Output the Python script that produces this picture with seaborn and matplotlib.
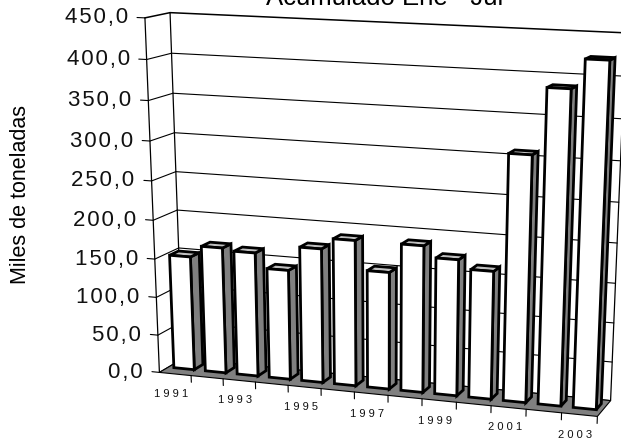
import numpy as np
import pandas as pd
import matplotlib
matplotlib.use("Agg")
import matplotlib.pyplot as plt
from matplotlib.patches import Polygon
from matplotlib.transforms import Transform
import seaborn as sns

years = ["1991", "1992", "1993", "1994", "1995", "1996", "1997",
         "1998", "1999", "2000", "2001", "2002", "2003"]
values = [150, 165, 162, 143, 174, 188, 151, 188, 174, 163, 308, 388, 423]
y_ticks = [0, 50, 100, 150, 200, 250, 300, 350, 400, 450]
y_labels = ["0,0", "50,0", "100,0", "150,0", "200,0", "250,0", "300,0", "350,0", "400,0", "450,0"]
title = "Acumulado Ene - Jul"
ylabel = "Miles de toneladas"

W, H = 621, 441
X0, X1 = -0.5, 12.5
VMAX = 450
# camera calibration: chart-box corners (x, value, depth) -> picture pixels
box = [((X0, 0, 0), (158, 370)), ((X0, VMAX, 0), (145, 18)),
       ((X0, 0, 1), (184, 361)), ((X0, VMAX, 1), (170, 12.5)),
       ((X1, 0, 0), (598, 417)), ((X1, VMAX, 0), (613, 41)),
       ((X1, 0, 1), (610, 400)), ((X1, VMAX, 1), (625, 31))]
A = []
for (x, v, z), (u, w) in box:
    v = v / 100
    A.append([x, v, z, 1, 0, 0, 0, 0, -u * x, -u * v, -u * z, -u])
    A.append([0, 0, 0, 0, x, v, z, 1, -w * x, -w * v, -w * z, -w])
CAM = np.linalg.svd(np.array(A, float))[2][-1].reshape(3, 4)


class Plane(Transform):
    """Maps 2-D coordinates on a plane of the 3-D chart box to display pixels."""
    input_dims = output_dims = 2
    is_affine = False

    def __init__(self, axis, value):
        super().__init__()
        self.axis, self.value = axis, value

    def transform_non_affine(self, pts):
        pts = np.asarray(pts, float)
        a, b = pts[:, 0], pts[:, 1]
        c = np.full(len(pts), float(self.value))
        if self.axis == "z":
            x, v, z = a, b, c
        elif self.axis == "x":
            x, v, z = c, b, a
        else:
            x, v, z = a, c, b
        q = np.c_[x, v / 100, z, np.ones(len(pts))] @ CAM.T
        return np.c_[q[:, 0] / q[:, 2], H - q[:, 1] / q[:, 2]]


sns.set_theme(style="white")
plt.rcParams["font.family"] = ["Liberation Sans", "DejaVu Sans"]
fig = plt.figure(figsize=(W / 100, H / 100), dpi=100)
ax = fig.add_axes([0, 0, 1, 1])

df = pd.DataFrame({"year": years, "value": values})
sns.barplot(data=df, x="year", y="value", color="white", saturation=1, width=0.65,
            edgecolor="black", linewidth=2.0, ax=ax, zorder=10)
bars = list(ax.patches)
ax.set_xlim(X0, X1)
ax.set_ylim(0, VMAX)
ax.set_axis_off()

ZF, ZB = 0.38, 0.76
GRAY, LIGHT = "#808080", "#c0c0c0"

# floor
fl = Plane("y", 0)
ax.add_patch(Polygon([(X0, 0), (X1, 0), (X1, 1), (X0, 1)], closed=True, fc=GRAY, ec="black",
                     lw=0.8, transform=fl, clip_on=False, zorder=2))

# walls and gridlines
back, left, front = Plane("z", 1), Plane("x", X0), Plane("z", 0)
for t in y_ticks:
    lw = 1.1 if t == VMAX else 0.8
    ax.plot([X0, X1], [t, t], color="black", lw=lw, transform=back, clip_on=False, zorder=1)
    ax.plot([0, 1], [t, t], color="black", lw=lw, transform=left, clip_on=False, zorder=1)
    ax.plot([X0 - 8 / 33.8, X0], [t, t], color="black", lw=0.8, transform=front, clip_on=False, zorder=3)
for xe in (0, 1):
    ax.plot([xe, xe], [0, VMAX], color="black", lw=0.9, transform=left, clip_on=False, zorder=3)
ax.plot([X1, X1], [0, VMAX], color="black", lw=0.9, transform=back, clip_on=False, zorder=1)

# bars: seaborn rectangles become the front faces, sides and tops follow from them
for i, bar in enumerate(bars):
    x, w, h = bar.get_x(), bar.get_width(), bar.get_height()
    z = 10 + 3 * i
    bar.set_transform(Plane("z", ZF))
    bar.set_clip_on(False)
    bar.set_zorder(z + 2)
    bar.set_joinstyle("miter")
    ax.add_patch(Polygon([(ZF, 0), (ZB, 0), (ZB, h), (ZF, h)], closed=True, fc=GRAY, ec="black", lw=2.0,
                         transform=Plane("x", x + w), clip_on=False, zorder=z))
    ax.add_patch(Polygon([(x, ZF), (x + w, ZF), (x + w, ZB), (x, ZB)], closed=True, fc=LIGHT, ec="black", lw=2.0,
                         transform=Plane("y", h), clip_on=False, zorder=z + 1))
    # category tick under the front edge
    ax.plot([i + 0.5, i + 0.5], [0, -9], color="black", lw=0.8, transform=front, clip_on=False, zorder=3)


def spaced(s, sep="\u200a"):
    return sep.join(s)


for t, lab in zip(y_ticks, y_labels):
    ax.annotate(spaced(lab), xy=(X0, t), xycoords=front, xytext=(-17, 0), textcoords="offset pixels",
                ha="right", va="center", fontsize=16, color="#111111", annotation_clip=False)
for i, yr in enumerate(years):
    if i % 2 == 0:
        ax.annotate(spaced(yr, "\u2009\u200a"), xy=(i, 0), xycoords=front, xytext=(-4, -20), textcoords="offset pixels",
                    ha="center", va="center", fontsize=8, color="#111111", annotation_clip=False)

fig.text(385 / W, 1 - 5 / H, title, ha="center", va="baseline", fontsize=18.5, color="black")
fig.text(21 / W, 1 - 195 / H, ylabel, rotation=90, ha="center", va="center", fontsize=15.5, color="black")

fig.savefig("out.png", dpi=100, facecolor="white")
